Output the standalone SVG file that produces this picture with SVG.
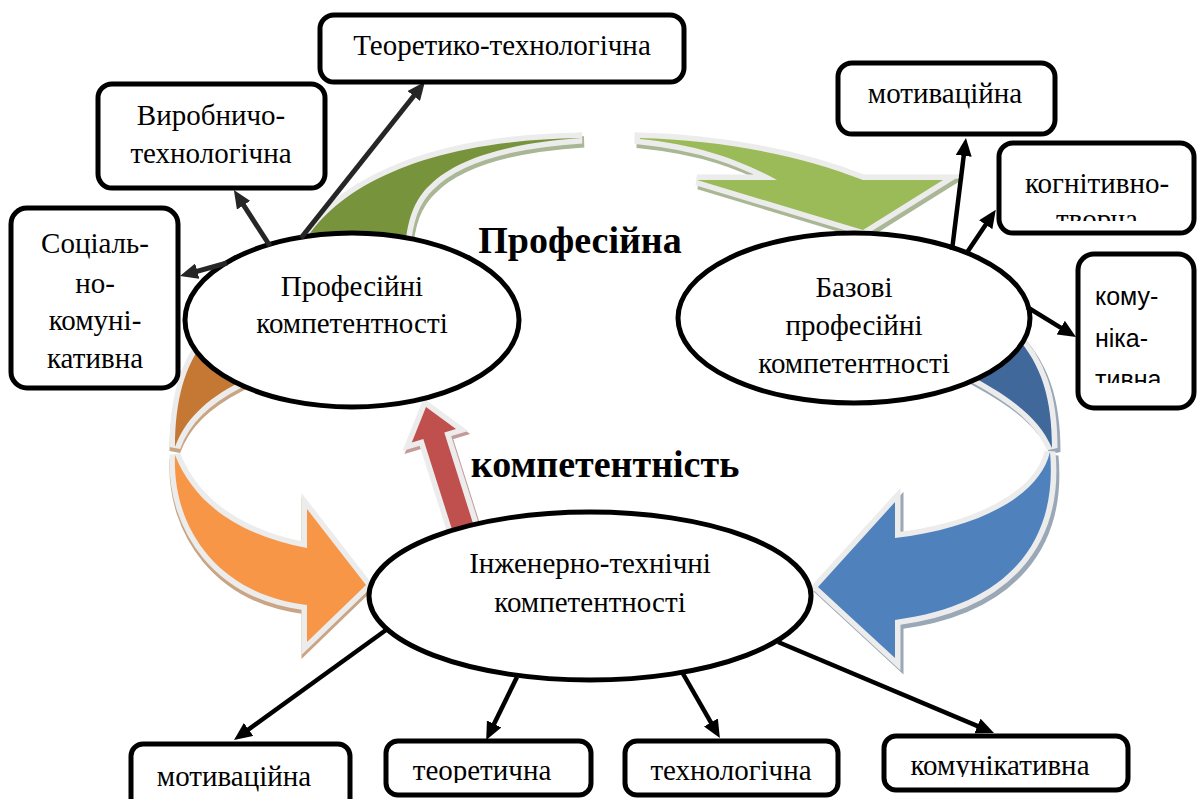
<svg xmlns="http://www.w3.org/2000/svg" width="1198" height="799" viewBox="0 0 1198 799" font-family="Liberation Serif">
<defs>
<style>
.box{fill:#fff;stroke:#000;stroke-width:5}
.ell{fill:#fff;stroke:#000;stroke-width:5}
</style>
<marker id="ah" markerUnits="userSpaceOnUse" markerWidth="18" markerHeight="16" viewBox="0 0 18 16" refX="8" refY="8" orient="auto"><path d="M0,0 L18,8 L0,16 z" fill="#000"/></marker>
<marker id="ah2" markerUnits="userSpaceOnUse" markerWidth="18" markerHeight="16" viewBox="0 0 18 16" refX="8" refY="8" orient="auto"><path d="M0,0 L18,8 L0,16 z" fill="#262626"/></marker>
<clipPath id="cKog"><rect x="1000" y="145" width="192" height="76"/></clipPath>
<clipPath id="cKom"><rect x="1080" y="256" width="112" height="127"/></clipPath>
<clipPath id="cTeor"><rect x="388" y="742" width="202" height="41"/></clipPath>
<clipPath id="cTech"><rect x="627" y="742" width="209" height="41"/></clipPath>
<clipPath id="cKomB"><rect x="886" y="737" width="240" height="40"/></clipPath>
<path id="gDark" d="M300,250 C330,190 420,140 582,138 C520,142 460,155 430,185 C414,200 407,220 405,250 Z"/>
<path id="gLight" d="M640,138 C720,140 800,155 863,180 L943,180 L863,230 L697,180 L777,180 C740,160 700,145 640,139 Z"/>
<path id="oDark" d="M205,340 C185,365 175,400 175,447 C185,420 205,400 240,382 Z"/>
<path id="oLight" d="M175,455 C172,530 220,595 307,605 L307,642 L366,585 L307,509 L307,548 C240,535 195,505 175,455 Z"/>
<path id="bDark" d="M1010,330 C1040,360 1052,395 1052,448 C1040,420 1015,400 975,378 Z"/>
<path id="bLight" d="M1050,452 C1058,540 1010,605 895,620 L895,658 L818,587 L895,502 L895,538 C980,528 1040,495 1050,452 Z"/>
<path id="rArrow" d="M452.5,531 L473.5,525 L444.3,432.5 L456,429 L426,407 L411.8,442.5 L423.3,439 Z"/>
</defs>

<g id="big-arrows" stroke-linejoin="miter">
  <g id="green-arrow">
    <g transform="translate(2,4)" fill="#a9b794" stroke="#a9b794" stroke-width="11">
      <use href="#gDark"/><use href="#gLight"/>
    </g>
    <use href="#gDark" stroke="#ececec" stroke-width="11" paint-order="stroke" fill="#77933c"/>
    <use href="#gLight" stroke="#ececec" stroke-width="11" paint-order="stroke" fill="#9bbb59"/>
  </g>
  <g id="orange-arrow">
    <g transform="translate(0,4)" fill="#c9a584" stroke="#c9a584" stroke-width="11">
      <use href="#oDark"/><use href="#oLight"/>
    </g>
    <use href="#oDark" stroke="#ececec" stroke-width="11" paint-order="stroke" fill="#c47833"/>
    <use href="#oLight" stroke="#ececec" stroke-width="11" paint-order="stroke" fill="#f79646"/>
  </g>
  <g id="blue-arrow">
    <g transform="translate(3,4)" fill="#9aa7b6" stroke="#9aa7b6" stroke-width="11">
      <use href="#bDark"/><use href="#bLight"/>
    </g>
    <use href="#bDark" stroke="#ececec" stroke-width="11" paint-order="stroke" fill="#41689a"/>
    <use href="#bLight" stroke="#ececec" stroke-width="11" paint-order="stroke" fill="#4f81bd"/>
  </g>
  <g id="red-arrow">
    <use href="#rArrow" transform="translate(2,3)" fill="#c49a9a" stroke="#c49a9a" stroke-width="11"/>
    <use href="#rArrow" stroke="#ececec" stroke-width="11" paint-order="stroke" fill="#c0504d"/>
  </g>
</g>

<g id="node-prof">
  <ellipse class="ell" cx="352" cy="320" rx="167" ry="87"/>
  <text font-family="Liberation Serif" font-size="29" text-anchor="middle" x="352" y="296">Професійні</text>
  <text font-family="Liberation Serif" font-size="29" text-anchor="middle" x="352" y="333">компетентності</text>
</g>
<g id="node-base">
  <ellipse class="ell" cx="854" cy="318" rx="176" ry="85"/>
  <text font-family="Liberation Serif" font-size="29" text-anchor="middle" x="854" y="297">Базові</text>
  <text font-family="Liberation Serif" font-size="29" text-anchor="middle" x="854" y="335">професійні</text>
  <text font-family="Liberation Serif" font-size="29" text-anchor="middle" x="854" y="373">компетентності</text>
</g>
<g id="node-eng">
  <ellipse class="ell" cx="590" cy="596" rx="221" ry="84"/>
  <text font-family="Liberation Serif" font-size="29" text-anchor="middle" x="590" y="573">Інженерно-технічні</text>
  <text font-family="Liberation Serif" font-size="29" text-anchor="middle" x="590" y="612">компетентності</text>
</g>

<g id="connectors" fill="none">
  <g stroke="#262626" stroke-width="5" marker-end="url(#ah2)">
    <line x1="301" y1="238" x2="418.7" y2="89.7"/>
    <line x1="270" y1="246" x2="239.3" y2="198.5"/>
    <line x1="227" y1="263" x2="189.6" y2="273.3"/>
  </g>
  <g stroke="#000" stroke-width="4.5" marker-end="url(#ah)">
    <line x1="952" y1="250" x2="964.7" y2="147.9"/>
    <line x1="966" y1="254" x2="990.2" y2="218.1"/>
    <line x1="1027" y1="307" x2="1067.5" y2="331.8"/>
    <line x1="386" y1="630" x2="242.1" y2="734.1"/>
    <line x1="517" y1="677" x2="490.6" y2="731.1"/>
    <line x1="682" y1="672" x2="714.9" y2="729.4"/>
    <line x1="778" y1="642" x2="984.8" y2="729.1"/>
  </g>
</g>

<g id="box-teortech">
  <rect class="box" x="320" y="15" width="364" height="67" rx="14"/>
  <text font-family="Liberation Serif" font-size="29" text-anchor="middle" x="502" y="55">Теоретико-технологічна</text>
</g>
<g id="box-vyrob">
  <rect class="box" x="98" y="84" width="227" height="104" rx="14"/>
  <text font-family="Liberation Serif" font-size="29" text-anchor="middle" x="211" y="125">Виробничо-</text>
  <text font-family="Liberation Serif" font-size="29" text-anchor="middle" x="211" y="163">технологічна</text>
</g>
<g id="box-social">
  <rect class="box" x="11" y="208" width="167" height="180" rx="16"/>
  <text font-family="Liberation Serif" font-size="29" text-anchor="middle" x="95" y="253">Соціаль-</text>
  <text font-family="Liberation Serif" font-size="29" text-anchor="middle" x="95" y="293">но-</text>
  <text font-family="Liberation Serif" font-size="29" text-anchor="middle" x="95" y="330">комуні-</text>
  <text font-family="Liberation Serif" font-size="29" text-anchor="middle" x="95" y="368">кативна</text>
</g>
<g id="box-motiv-top">
  <rect class="box" x="838" y="63" width="217" height="71" rx="14"/>
  <text font-family="Liberation Serif" font-size="29" text-anchor="middle" x="945" y="103">мотиваційна</text>
</g>
<g id="box-kogn">
  <rect class="box" x="999" y="143" width="195" height="90" rx="14"/>
  <g clip-path="url(#cKog)">
    <text font-family="Liberation Serif" font-size="29" text-anchor="middle" x="1097" y="193">когнітивно-</text>
    <text font-family="Liberation Serif" font-size="29" text-anchor="middle" x="1097" y="229">творча</text>
  </g>
</g>
<g id="box-komu">
  <rect class="box" x="1078" y="254" width="116" height="154" rx="16"/>
  <g clip-path="url(#cKom)">
    <text font-family="Liberation Sans" font-size="25" x="1095" y="305">кому-</text>
    <text font-family="Liberation Sans" font-size="25" x="1095" y="347">ніка-</text>
    <text font-family="Liberation Sans" font-size="25" x="1095" y="388">тивна</text>
  </g>
</g>
<g id="box-motiv-bot">
  <rect class="box" x="131" y="744" width="219" height="70" rx="12"/>
  <text font-family="Liberation Serif" font-size="29" text-anchor="middle" x="234" y="786">мотиваційна</text>
</g>
<g id="box-teor">
  <rect class="box" x="386" y="741" width="205" height="54" rx="12"/>
  <g clip-path="url(#cTeor)"><text font-family="Liberation Serif" font-size="29" text-anchor="middle" x="482" y="780">теоретична</text></g>
</g>
<g id="box-tech">
  <rect class="box" x="625" y="741" width="213" height="54" rx="12"/>
  <g clip-path="url(#cTech)"><text font-family="Liberation Serif" font-size="29" text-anchor="middle" x="731" y="780">технологічна</text></g>
</g>
<g id="box-komun">
  <rect class="box" x="884" y="736" width="244" height="54" rx="12"/>
  <g clip-path="url(#cKomB)"><text font-family="Liberation Serif" font-size="29" text-anchor="middle" x="1000" y="775">комунікативна</text></g>
</g>

<g id="labels">
  <text font-family="Liberation Serif" font-size="38" font-weight="bold" text-anchor="middle" x="580" y="253">Професійна</text>
  <text font-family="Liberation Serif" font-size="38" font-weight="bold" text-anchor="middle" x="605" y="477">компетентність</text>
</g>
</svg>
